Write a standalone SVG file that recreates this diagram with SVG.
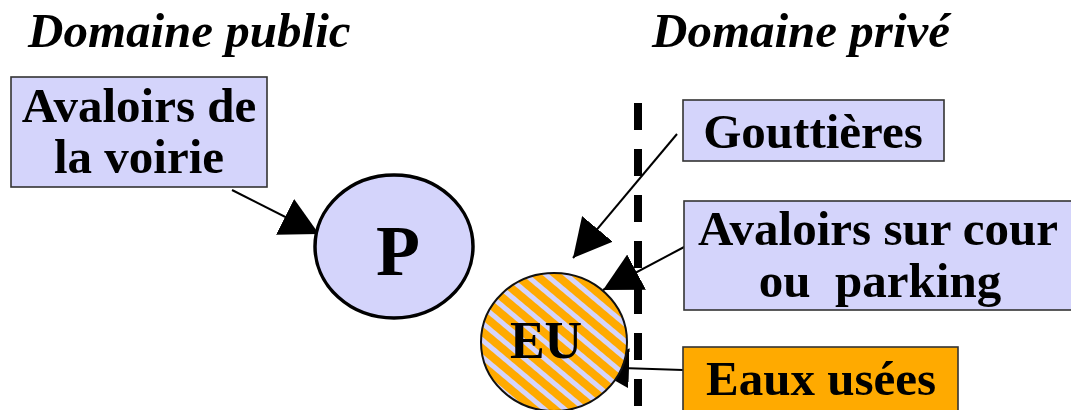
<svg xmlns="http://www.w3.org/2000/svg" width="1071" height="410" viewBox="0 0 1071 410">
  <style>
    .title { font-family: "Liberation Serif", "Times New Roman", serif; font-weight: bold; font-style: italic; font-size: 49px; fill: #000; }
    .lbl { font-family: "Liberation Serif", "Times New Roman", serif; font-weight: bold; font-size: 49px; fill: #000; text-anchor: middle; }
    .box { fill: #D4D4FB; stroke: #333; stroke-width: 1.6; }
    .obox { fill: #FFAA00; stroke: #333; stroke-width: 1.6; }
    .conn { stroke: #000; stroke-width: 2; fill: none; marker-end: url(#arrow); }
    .sep { stroke: #000; stroke-width: 8; stroke-dasharray: 27 19; fill: none; }
  </style>
  <defs>
    <marker id="arrow" markerUnits="userSpaceOnUse" viewBox="0 0 38 40" markerWidth="38" markerHeight="40" refX="38" refY="20" orient="auto">
      <path d="M0,0 L38,20 L0,40 Z" fill="#000"/>
    </marker>
    <pattern id="stripes" patternUnits="userSpaceOnUse" width="13" height="13" patternTransform="rotate(40)">
      <rect x="0" y="0" width="13" height="13" fill="#FFAA00"/>
      <rect x="0" y="0" width="13" height="5" fill="#D4D4FB"/>
    </pattern>
  </defs>
  <rect width="1071" height="410" fill="#fff"/>

  <g id="titles">
    <text class="title" x="28" y="47">Domaine public</text>
    <text class="title" x="652" y="47">Domaine privé</text>
  </g>

  <g id="separator">
    <line class="sep" x1="638" y1="103" x2="638" y2="412"/>
  </g>

  <g id="connectors">
    <line class="conn" x1="232" y1="190" x2="319" y2="234"/>
    <line class="conn" x1="677" y1="134" x2="573" y2="258"/>
    <line class="conn" x1="686" y1="246" x2="603" y2="290"/>
    <line class="conn" x1="683" y1="370" x2="591" y2="367"/>
  </g>

  <g id="avaloirs-voirie">
    <rect class="box" x="11" y="77" width="256" height="110"/>
    <text class="lbl" x="139" y="122">Avaloirs de</text>
    <text class="lbl" x="139" y="173">la voirie</text>
  </g>

  <g id="node-p">
    <ellipse cx="394" cy="246.5" rx="79" ry="71.5" fill="#D4D4FB" stroke="#000" stroke-width="3.5"/>
    <text class="lbl" x="398" y="275" style="font-size:72px">P</text>
  </g>

  <g id="gouttieres">
    <rect class="box" x="683" y="100" width="261" height="61"/>
    <text class="lbl" x="813" y="148">Gouttières</text>
  </g>

  <g id="avaloirs-cour">
    <rect class="box" x="684" y="201" width="400" height="109"/>
    <text class="lbl" x="878" y="245">Avaloirs sur cour</text>
    <text class="lbl" x="880" y="297" xml:space="preserve">ou  parking</text>
  </g>

  <g id="eaux-usees">
    <rect class="obox" x="683" y="347" width="275" height="80"/>
    <text class="lbl" x="821" y="395">Eaux usées</text>
  </g>

  <g id="node-eu">
    <ellipse cx="554" cy="342" rx="73" ry="69" fill="url(#stripes)" stroke="#111" stroke-width="2"/>
    <text class="lbl" x="546" y="358" style="font-size:52px">EU</text>
  </g>
</svg>
